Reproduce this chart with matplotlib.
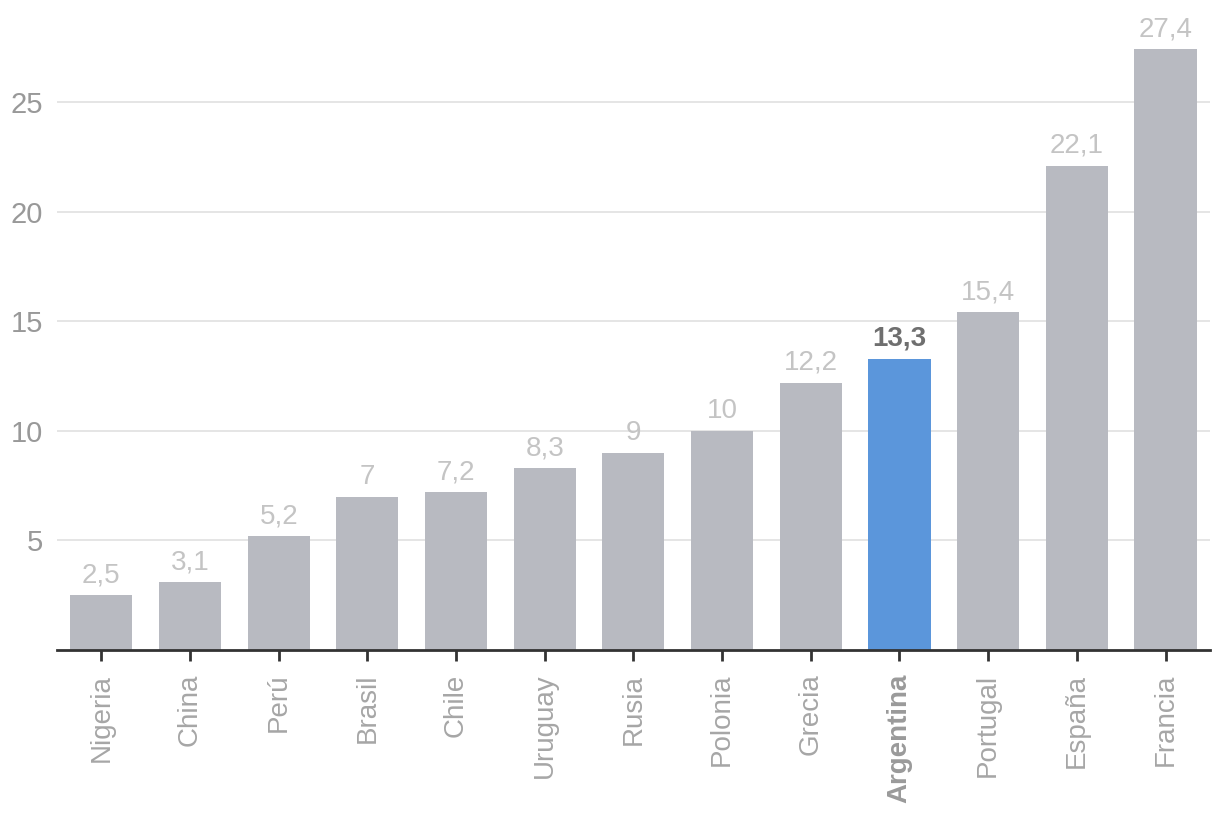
import matplotlib
matplotlib.use("Agg")
import matplotlib.pyplot as plt

# Datos
paises = ['Nigeria', 'China', 'Perú', 'Brasil', 'Chile', 'Uruguay', 'Rusia',
          'Polonia', 'Grecia', 'Argentina', 'Portugal', 'España', 'Francia']
valores = [2.5, 3.1, 5.2, 7, 7.2, 8.3, 9, 10, 12.2, 13.3, 15.4, 22.1, 27.4]
destacado = 'Argentina'

plt.rcParams['font.family'] = ['Liberation Sans', 'DejaVu Sans']

fig = plt.figure(figsize=(12.2, 8.22), dpi=100)
ax = fig.add_axes([0.0467, 0.2092, 0.945, 0.7664])

colores = ['#5b96db' if p == destacado else '#b8bac1' for p in paises]
x = range(len(paises))
ax.bar(x, valores, width=0.70, color=colores, zorder=2)

for i, (p, v) in enumerate(zip(paises, valores)):
    txt = f'{v:g}'.replace('.', ',')
    if p == destacado:
        ax.annotate(txt, (i, v), xytext=(0, 5), textcoords='offset points',
                    ha='center', va='bottom', fontsize=20, fontweight='bold',
                    color='#6f6f6f')
    else:
        ax.annotate(txt, (i, v), xytext=(0, 5), textcoords='offset points',
                    ha='center', va='bottom', fontsize=20, color='#c4c4c4')

ax.set_xlim(-0.5, len(paises) - 0.5)
ax.set_ylim(0, 28.74)
ax.set_yticks([5, 10, 15, 20, 25])
ax.yaxis.grid(True, color='#e3e3e3', linewidth=1.3, zorder=0)
ax.set_axisbelow(True)

for s in ['top', 'right', 'left']:
    ax.spines[s].set_visible(False)
ax.spines['bottom'].set_color('#333333')
ax.spines['bottom'].set_linewidth(2)

ax.tick_params(axis='y', length=0, labelsize=21, labelcolor='#999999', pad=10)
ax.tick_params(axis='x', length=8, width=2, color='#333333', labelsize=20,
               labelcolor='#a6a6a6', pad=9)
ax.set_xticks(list(x))
ax.set_xticklabels(paises, rotation=90)
for lbl in ax.get_xticklabels():
    if lbl.get_text() == destacado:
        lbl.set_fontweight('bold')
        lbl.set_color('#9a9a9a')

fig.savefig('out.png', dpi=100)
